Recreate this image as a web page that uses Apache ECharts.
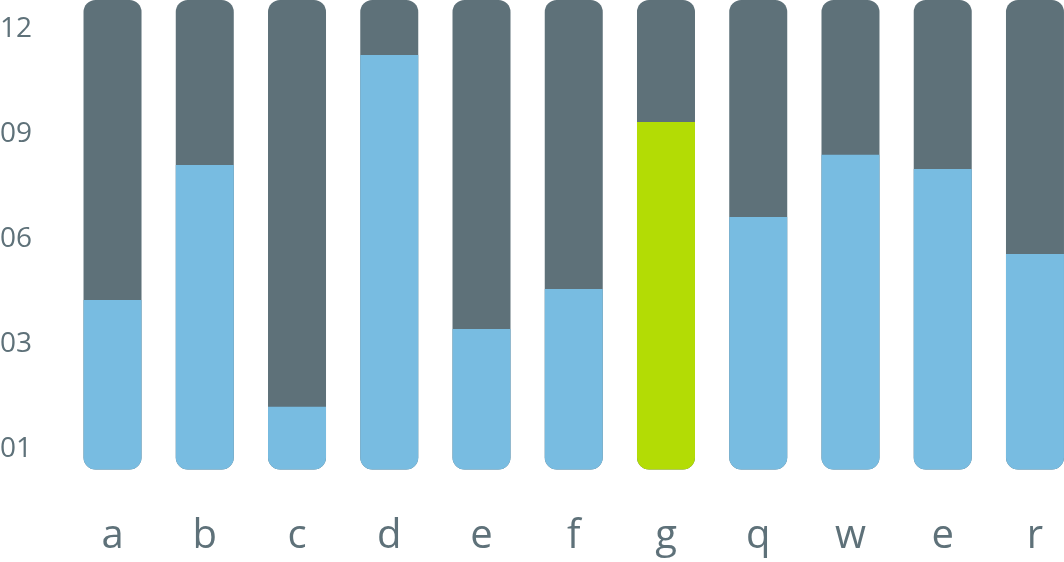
<!DOCTYPE html>
<html>
<head>
<meta charset="utf-8">
<script src="https://cdn.jsdelivr.net/npm/echarts@6/dist/echarts.min.js"></script>
<style>html,body{margin:0;padding:0;background:#fff;}#c{width:1064px;height:562px;}</style>
</head>
<body>
<div id="c"></div>
<script>
// categories (x axis)
const categories = ['a', 'b', 'c', 'd', 'e', 'f', 'g', 'q', 'w', 'e', 'r'];
// bar values (scale: 0 at bar bottom, 13.4 at bar top)
const values = [4.84, 8.69, 1.79, 11.83, 4.01, 5.15, 9.92, 7.21, 8.98, 8.58, 6.15];
// highlighted category index
const highlightIndex = 6;
// y axis tick positions and their labels
const tickValues = [0.57, 3.57, 6.57, 9.57, 12.57];
const tickLabels = ['01', '03', '06', '09', '12'];
const yMax = 13.4;

const DARK = '#5e7179', BLUE = '#78bce1', GREEN = '#b3dc05';

const chart = echarts.init(document.getElementById('c'));
chart.setOption({
  animation: false,
  grid: { left: 66.4, right: -17.1, top: 0, bottom: 92.5, outerBoundsMode: 'none' },
  xAxis: {
    type: 'category',
    data: categories,
    axisLine: { show: false },
    axisTick: { show: false },
    axisLabel: { fontFamily: 'Open Sans', fontSize: 40, color: DARK, margin: 47 }
  },
  yAxis: {
    type: 'value',
    min: 0,
    max: yMax,
    splitLine: { show: false },
    axisLine: { show: false },
    axisTick: { show: false, customValues: tickValues },
    axisLabel: {
      customValues: tickValues,
      fontFamily: 'Open Sans', fontSize: 28, color: DARK,
      align: 'left', margin: 66.4,
      formatter: function (v) {
        let best = 0;
        for (let i = 0; i < tickValues.length; i++) {
          if (Math.abs(tickValues[i] - v) < Math.abs(tickValues[best] - v)) best = i;
        }
        return tickLabels[best];
      }
    }
  },
  series: [{
    type: 'bar',
    barWidth: 58,
    showBackground: true,
    backgroundStyle: { color: DARK, borderRadius: 12 },
    itemStyle: { color: BLUE, borderRadius: [0, 0, 12, 12] },
    data: values.map((v, i) => i === highlightIndex ? { value: v, itemStyle: { color: GREEN } } : v)
  }]
});
</script>
</body>
</html>
